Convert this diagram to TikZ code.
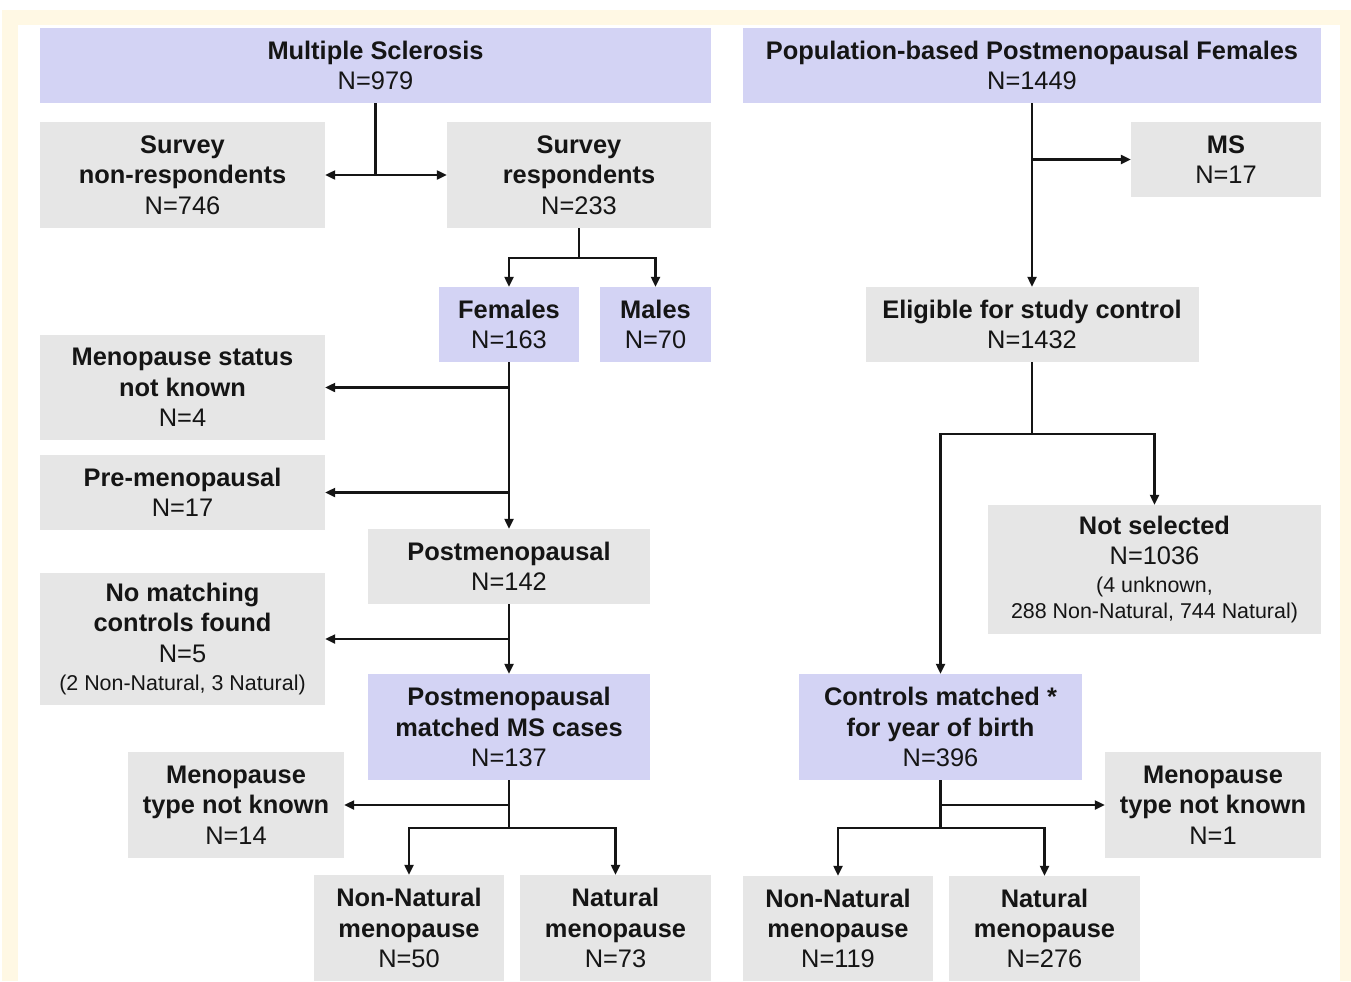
\documentclass[tikz,border=0pt]{standalone}
\usepackage{fontspec}
\setmainfont{Liberation Sans}
\usetikzlibrary{arrows.meta}
\definecolor{boxblue}{HTML}{D3D3F4}
\definecolor{boxgray}{HTML}{E6E6E6}
\definecolor{cream}{HTML}{FFF8E4}
\definecolor{linec}{HTML}{151515}
\tikzset{
  base/.style={inner sep=0pt, align=center, font=\fontsize{25.5}{30.5}\selectfont, text=linec},
  bluebox/.style={base, fill=boxblue},
  graybox/.style={base, fill=boxgray},
  ln/.style={line width=2.2bp, draw=linec},
  arr/.style={ln, -{Triangle[length=10bp,width=9bp]}},
  darr/.style={ln, {Triangle[length=10bp,width=9bp]}-{Triangle[length=10bp,width=9bp]}}
}
\newcommand{\smalltxt}{\fontsize{21.5}{26}\selectfont}
\begin{document}
\begin{tikzpicture}[x=1bp,y=-1bp]
\useasboundingbox (0,0) rectangle (1351,981);
\fill[white] (0,0) rectangle (1351,981);
\fill[cream] (2,10) rectangle (1351,981);
\fill[white] (18,25) rectangle (1340,981);

% nodes
\node[bluebox, minimum width=671bp, minimum height=75bp] (ms) at (375.5,65.5) {\textbf{Multiple Sclerosis}\\N=979};
\node[bluebox, minimum width=578bp, minimum height=75bp] (pop) at (1032,65.5) {\textbf{Population-based Postmenopausal Females}\\N=1449};
\node[graybox, minimum width=285bp, minimum height=106bp] (nonresp) at (182.5,175) {\textbf{Survey}\\\textbf{non-respondents}\\N=746};
\node[graybox, minimum width=264bp, minimum height=106bp] (resp) at (579,175) {\textbf{Survey}\\\textbf{respondents}\\N=233};
\node[graybox, minimum width=190bp, minimum height=75bp] (ms17) at (1226,159.5) {\textbf{MS}\\N=17};
\node[bluebox, minimum width=140bp, minimum height=75bp] (fem) at (509,324.5) {\textbf{Females}\\N=163};
\node[bluebox, minimum width=111bp, minimum height=75bp] (male) at (655.5,324.5) {\textbf{Males}\\N=70};
\node[graybox, minimum width=333bp, minimum height=75bp] (elig) at (1032,324.5) {\textbf{Eligible for study control}\\N=1432};
\node[graybox, minimum width=285bp, minimum height=105bp] (msnk) at (182.5,387.5) {\textbf{Menopause status}\\\textbf{not known}\\N=4};
\node[graybox, minimum width=285bp, minimum height=75bp] (pre) at (182.5,492.5) {\textbf{Pre-menopausal}\\N=17};
\node[graybox, minimum width=282bp, minimum height=75bp] (post) at (509,566.5) {\textbf{Postmenopausal}\\N=142};
\node[graybox, minimum width=333bp, minimum height=129bp] (notsel) at (1154.5,569.5) {\textbf{Not selected}\\N=1036\\[-3bp]{\smalltxt (4 unknown,}\\[-4bp]{\smalltxt 288 Non-Natural, 744 Natural)}};
\node[graybox, minimum width=285bp, minimum height=132bp] (nomatch) at (182.5,639) {\textbf{No matching}\\\textbf{controls found}\\N=5\\[-2bp]{\smalltxt (2 Non-Natural, 3 Natural)}};
\node[bluebox, minimum width=282bp, minimum height=106bp] (match) at (509,727) {\textbf{Postmenopausal}\\\textbf{matched MS cases}\\N=137};
\node[bluebox, minimum width=283bp, minimum height=106bp] (ctrl) at (940.5,727) {\textbf{Controls matched *}\\\textbf{for year of birth}\\N=396};
\node[graybox, minimum width=216bp, minimum height=106bp] (mtnkL) at (236,805) {\textbf{Menopause}\\\textbf{type not known}\\N=14};
\node[graybox, minimum width=216bp, minimum height=106bp] (mtnkR) at (1213,805) {\textbf{Menopause}\\\textbf{type not known}\\N=1};
\node[graybox, minimum width=190bp, minimum height=106bp] (nnL) at (409,928) {\textbf{Non-Natural}\\\textbf{menopause}\\N=50};
\node[graybox, minimum width=191bp, minimum height=106bp] (natL) at (615.5,928) {\textbf{Natural}\\\textbf{menopause}\\N=73};
\node[graybox, minimum width=190bp, minimum height=105bp] (nnR) at (838,928.5) {\textbf{Non-Natural}\\\textbf{menopause}\\N=119};
\node[graybox, minimum width=191bp, minimum height=105bp] (natR) at (1044.5,928.5) {\textbf{Natural}\\\textbf{menopause}\\N=276};

% junction coordinates
\coordinate (jresp) at (579,258);
\coordinate (jmatch) at (509,828);
\coordinate (jelig) at (1032,434);
\coordinate (jctrl) at (940.5,828);

% left column connectors
\draw[ln] (ms.south) -- (ms.south |- nonresp.east);
\draw[darr] (nonresp.east) -- (resp.west);
\draw[ln] (resp.south) -- (jresp);
\draw[arr] (jresp) -| (fem.north);
\draw[arr] (jresp) -| (male.north);
\draw[arr] (fem.south) -- (post.north);
\draw[arr] (fem.south |- msnk.east) -- (msnk.east);
\draw[arr] (fem.south |- pre.east) -- (pre.east);
\draw[arr] (post.south) -- (match.north);
\draw[arr] (post.south |- nomatch.east) -- (nomatch.east);
\draw[ln] (match.south) -- (jmatch);
\draw[arr] (match.south |- mtnkL.east) -- (mtnkL.east);
\draw[arr] (jmatch) -| (nnL.north);
\draw[arr] (jmatch) -| (natL.north);

% right column connectors
\draw[arr] (pop.south) -- (elig.north);
\draw[arr] (pop.south |- ms17.west) -- (ms17.west);
\draw[ln] (elig.south) -- (jelig);
\draw[arr] (jelig) -| (notsel.north);
\draw[arr] (jelig) -| (ctrl.north);
\draw[ln] (ctrl.south) -- (jctrl);
\draw[arr] (ctrl.south |- mtnkR.west) -- (mtnkR.west);
\draw[arr] (jctrl) -| (nnR.north);
\draw[arr] (jctrl) -| (natR.north);
\end{tikzpicture}
\end{document}
